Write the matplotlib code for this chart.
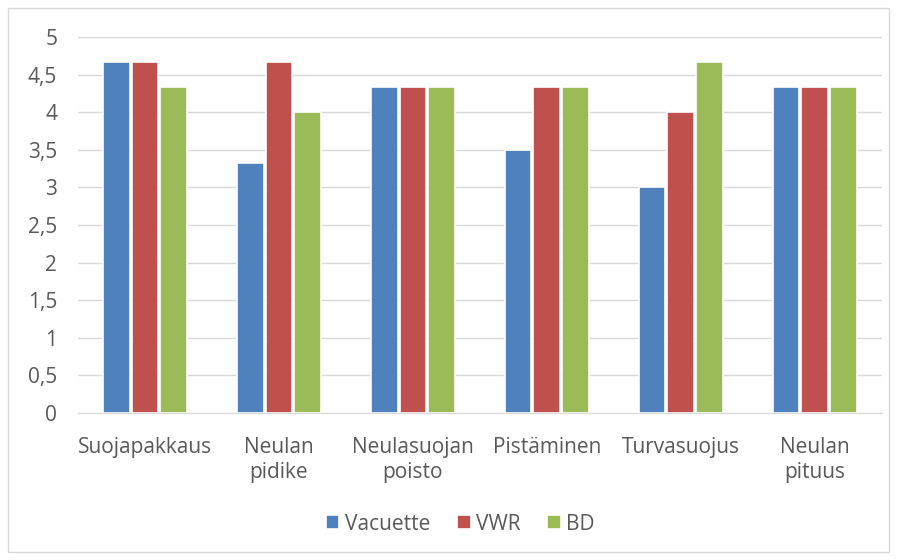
import matplotlib.pyplot as plt
import numpy as np
from matplotlib.patches import Rectangle

plt.rcParams['font.family'] = ['Open Sans', 'DejaVu Sans']

categories = ['Suojapakkaus', 'Neulan\npidike', 'Neulasuojan\npoisto', 'Pistäminen', 'Turvasuojus', 'Neulan\npituus']
vacuette = [4.67, 3.33, 4.33, 3.5, 3.0, 4.33]
vwr = [4.67, 4.67, 4.33, 4.33, 4.0, 4.33]
bd = [4.33, 4.0, 4.33, 4.33, 4.67, 4.33]
series = [('Vacuette', vacuette, '#4F81BD'), ('VWR', vwr, '#C0504D'), ('BD', bd, '#9BBB59')]

txt = '#595959'
fig = plt.figure(figsize=(8.97, 5.6), dpi=100)
ax = fig.add_axes([0.087, 0.2625, 0.896, 0.6715])

x = np.arange(len(categories))
w = 0.2
for i, (name, vals, col) in enumerate(series):
    ax.bar(x + (i - 1) * 0.215, vals, width=w, color=col, edgecolor='white', linewidth=1.2, label=name, zorder=3)

ax.set_xlim(-0.5, len(categories) - 0.5)
ax.set_ylim(0, 5)
ax.set_yticks(np.arange(0, 5.01, 0.5))
ax.set_yticklabels(['0', '0,5', '1', '1,5', '2', '2,5', '3', '3,5', '4', '4,5', '5'])
ax.set_xticks(x)
ax.set_xticklabels(categories, linespacing=1.3)
ax.tick_params(axis='both', length=0, labelsize=15, colors=txt)
ax.tick_params(axis='x', pad=17)
ax.tick_params(axis='y', pad=15)
ax.grid(axis='y', color='#D9D9D9', linewidth=1, zorder=0)
for s in ['top', 'right', 'left']:
    ax.spines[s].set_visible(False)
ax.spines['bottom'].set_color('#D9D9D9')

leg = fig.legend(loc='center', bbox_to_anchor=(0.513, 0.064), ncol=3, frameon=False,
                 fontsize=15, handlelength=0.65, handleheight=0.65, handletextpad=0.25, columnspacing=1.3)
for t in leg.get_texts():
    t.set_color(txt)

fig.patches.append(Rectangle((8 / 897, 8 / 560), 881 / 897, 544 / 560, transform=fig.transFigure,
                             fill=False, edgecolor='#D9D9D9', linewidth=1))

fig.savefig('out.png', dpi=100)
